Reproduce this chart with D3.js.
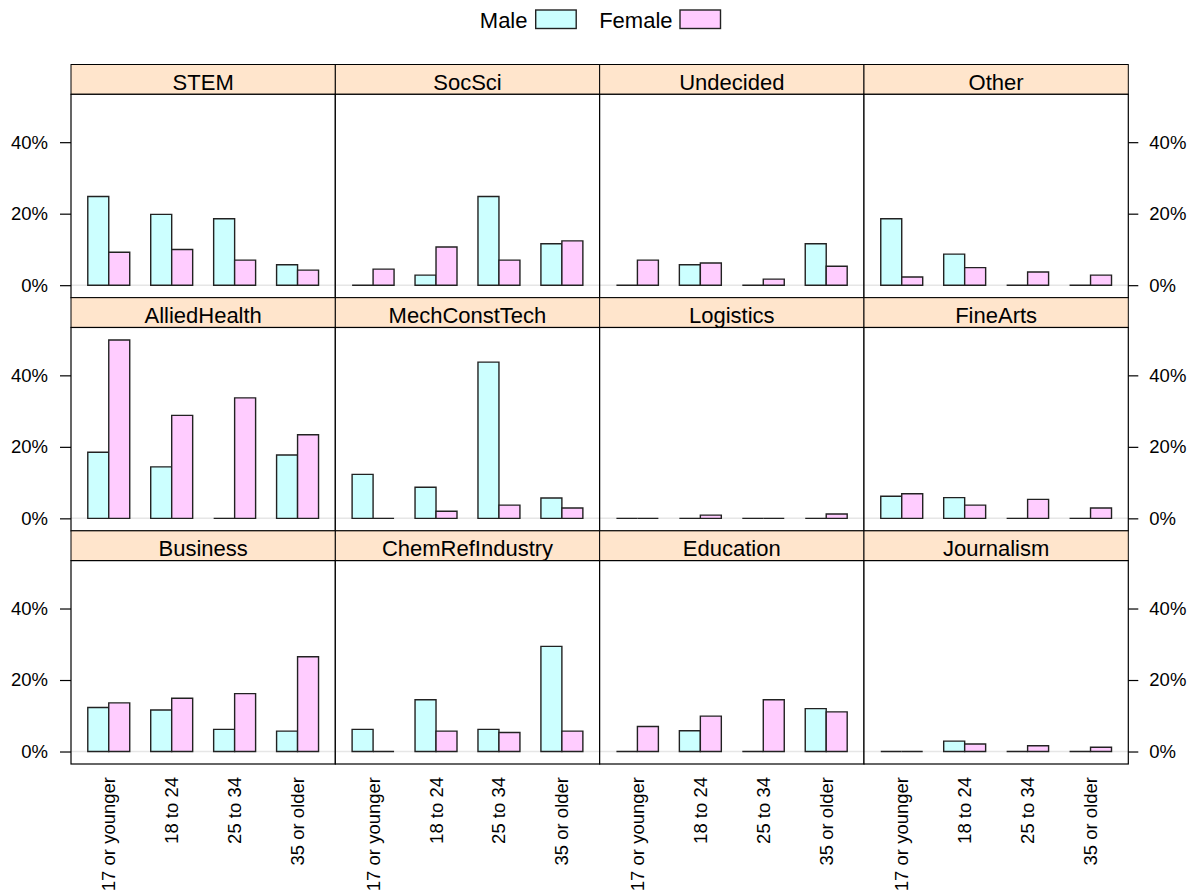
<!DOCTYPE html>
<html>
<head>
<meta charset="utf-8">
<script src="https://cdn.jsdelivr.net/npm/d3@7"></script>
<style>
  html, body { margin: 0; padding: 0; background: #fff; }
  svg { display: block; font-family: "Liberation Sans", Arial, sans-serif; }
</style>
</head>
<body>
<svg id="chart" width="1194" height="895"></svg>
<script>
// ---- data ----
const ageGroups = ["17 or younger", "18 to 24", "25 to 34", "35 or older"];
const majors = ["STEM", "SocSci", "Undecided", "Other",
                "AlliedHealth", "MechConstTech", "Logistics", "FineArts",
                "Business", "ChemRefIndustry", "Education", "Journalism"];
const sexes = ["Male", "Female"];
const sexColors = ["#CCFFFF", "#FFCCFF"];
// percent of each sex in each age group, per major (rows follow `majors`)
const maleValues = [
  [24.8, 19.8, 18.6, 5.7],
  [0, 2.8, 24.8, 11.6],
  [0, 5.7, 0, 11.6],
  [18.6, 8.7, 0, 0],
  [18.5, 14.4, 0, 17.7],
  [12.3, 8.7, 43.7, 5.7],
  [0, 0, 0, 0],
  [6.2, 5.8, 0, 0],
  [12.3, 11.6, 6.2, 5.7],
  [6.2, 14.5, 6.2, 29.4],
  [0, 5.8, 0, 12.0],
  [0, 2.9, 0, 0]
];
const femaleValues = [
  [9.2, 10.0, 7.0, 4.2],
  [4.5, 10.7, 7.0, 12.4],
  [7.0, 6.2, 1.7, 5.3],
  [2.3, 4.9, 3.7, 2.8],
  [49.9, 28.8, 33.7, 23.4],
  [0, 2.0, 3.7, 2.9],
  [0, 0.9, 0, 1.2],
  [6.9, 3.7, 5.3, 2.9],
  [13.6, 14.9, 16.2, 26.5],
  [0, 5.7, 5.3, 5.7],
  [7.0, 9.9, 14.5, 11.1],
  [0, 2.1, 1.6, 1.2]
];
const yTicks = [0, 20, 40];
const yTickLabels = ["0%", "20%", "40%"];

// ---- layout ----
const svg = d3.select("#chart");
const nCols = 4, nRows = 3;
const gridLeft = 71, gridRight = 1128.3, gridTop = 64.5, gridBottom = 764;
const colW = (gridRight - gridLeft) / nCols;
const rowH = (gridBottom - gridTop) / nRows;
const stripH = 29.8;
const panelH = rowH - stripH;

const allVals = maleValues.flat().concat(femaleValues.flat());
const yMax = d3.max(allVals);
const pad = 0.07 * yMax;
const y = d3.scaleLinear().domain([-pad, yMax + pad]).range([panelH, 0]);
const x = d3.scalePoint().domain(ageGroups).range([0, colW]).padding(0.6);
const step = x.step();
const barW = step / 3;
const series = [maleValues, femaleValues];

function barPath(x0, v) {
  const y0 = y(0), y1 = y(v);
  return `M${x0},${y0}H${x0 + barW}V${y1}H${x0}Z`;
}

majors.forEach((m, i) => {
  const col = i % nCols, row = Math.floor(i / nCols);
  const gx = gridLeft + col * colW;
  const gy = gridTop + row * rowH;
  const g = svg.append("g").attr("transform", `translate(${gx},${gy})`);

  // strip
  g.append("rect").attr("x", 0).attr("y", 0).attr("width", colW).attr("height", stripH)
    .attr("fill", "#FFE5CC").attr("stroke", "#000").attr("stroke-width", 1);
  g.append("text").attr("x", colW / 2).attr("y", 25.5)
    .attr("text-anchor", "middle").attr("font-size", 22).attr("fill", "#000").text(m);

  const p = g.append("g").attr("transform", `translate(0,${stripH})`);
  p.append("rect").attr("width", colW).attr("height", panelH).attr("fill", "#fff");
  p.append("line").attr("x1", 0).attr("x2", colW).attr("y1", y(0)).attr("y2", y(0))
    .attr("stroke", "#e6e6e6").attr("stroke-width", 1.5);

  sexes.forEach((s, si) => {
    p.selectAll(null).data(series[si][i]).enter().append("path")
      .attr("d", (d, k) => barPath(x(ageGroups[k]) - barW + si * barW, d))
      .attr("fill", sexColors[si])
      .attr("stroke", "#222").attr("stroke-width", 1.4)
      .attr("stroke-linejoin", "miter");
  });

  p.append("rect").attr("width", colW).attr("height", panelH)
    .attr("fill", "none").attr("stroke", "#000").attr("stroke-width", 1.2);

  // y axes
  if (col === 0) {
    const ax = p.append("g").call(d3.axisLeft(y).tickValues(yTicks)
      .tickFormat((d, k) => yTickLabels[k]).tickSize(11).tickPadding(12));
    ax.select(".domain").remove();
    ax.selectAll("text").attr("font-size", 18.5).attr("font-family", "Liberation Sans, Arial, sans-serif").attr("fill", "#000");
    ax.selectAll("line").attr("stroke", "#000").attr("stroke-width", 1.2);
  }
  if (col === nCols - 1) {
    const ax = p.append("g").attr("transform", `translate(${colW},0)`)
      .call(d3.axisRight(y).tickValues(yTicks)
      .tickFormat((d, k) => yTickLabels[k]).tickSize(10).tickPadding(11));
    ax.select(".domain").remove();
    ax.selectAll("text").attr("font-size", 18.5).attr("font-family", "Liberation Sans, Arial, sans-serif").attr("fill", "#000");
    ax.selectAll("line").attr("stroke", "#000").attr("stroke-width", 1.2);
  }
  // x labels on bottom row
  if (row === nRows - 1) {
    p.selectAll(null).data(ageGroups).enter().append("text")
      .attr("transform", d => `translate(${x(d)},${panelH + 13}) rotate(-90)`)
      .attr("text-anchor", "end").attr("dy", "0.35em")
      .attr("font-size", 18.5).attr("fill", "#000").text(d => d);
  }
});

// legend
const legend = svg.append("g");
const legendItems = [
  { label: sexes[0], tx: 527.5, rx: 535.7, color: sexColors[0] },
  { label: sexes[1], tx: 672.5, rx: 680, color: sexColors[1] }
];
legendItems.forEach(it => {
  legend.append("text").attr("x", it.tx).attr("y", 27.5).attr("text-anchor", "end")
    .attr("font-size", 22).attr("fill", "#000").text(it.label);
  legend.append("rect").attr("x", it.rx).attr("y", 10).attr("width", 40.5).attr("height", 18.5)
    .attr("fill", it.color).attr("stroke", "#222").attr("stroke-width", 1.4);
});
</script>
</body>
</html>
